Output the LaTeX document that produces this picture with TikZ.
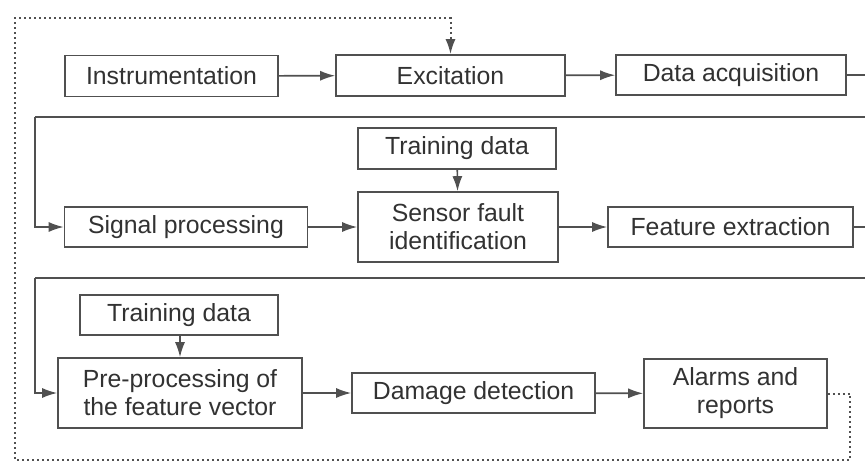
\documentclass[tikz,border=0pt]{standalone}
\usepackage{fontspec}
\setmainfont{Liberation Sans}
\usepackage{tikz}
\usetikzlibrary{arrows.meta,calc}

\definecolor{boxgray}{RGB}{80,80,80}
\definecolor{txtgray}{RGB}{50,50,50}

\tikzset{
  block/.style={draw=boxgray, line width=1.6pt, fill=white, text=txtgray,
    align=center, inner sep=0pt, font=\fontsize{24.8}{28}\selectfont},
  flow/.style={draw=boxgray, line width=1.6pt, -{Latex[length=15pt,width=10pt]}},
  link/.style={draw=boxgray, line width=1.6pt},
  feedback/.style={draw=boxgray, line width=2pt, dash pattern=on 2pt off 3pt,
    -{Latex[length=15pt,width=10pt]}}
}

\begin{document}
\begin{tikzpicture}[x=1pt,y=-1pt]
    \useasboundingbox (0,0) rectangle (865,463);

    % first row
    \node[block, minimum width=213pt, minimum height=41pt] (instr) at (171.5,76) {Instrumentation};
    \node[block, minimum width=229pt, minimum height=41pt] (excit) at (450.5,75.5) {Excitation};
    \node[block, minimum width=230pt, minimum height=40pt] (daq) at (731,75) {Data acquisition};

    % second row
    \node[block, minimum width=243pt, minimum height=40pt] (sigproc) at (186,227) {Signal processing};
    \node[block, minimum width=198pt, minimum height=41pt] (trainA) at (457,148.5) {Training data};
    \node[block, minimum width=200pt, minimum height=70pt] (sensor) at (458,227) {Sensor fault\\identification};
    \node[block, minimum width=245pt, minimum height=40pt] (featext) at (730.5,227) {Feature extraction};

    % third row
    \node[block, minimum width=198pt, minimum height=40pt] (trainB) at (179,315) {Training data};
    \node[block, minimum width=244pt, minimum height=70pt] (preproc) at (180,393) {Pre-processing of\\the feature vector};
    \node[block, minimum width=243pt, minimum height=40pt] (damage) at (473.5,393) {Damage detection};
    \node[block, minimum width=183pt, minimum height=69pt] (alarms) at (735.5,393.5) {Alarms and\\reports};

    % turning points
    \coordinate (edgeA) at (880,117);
    \coordinate (retA) at (35,117);
    \coordinate (edgeB) at (880,278);
    \coordinate (retB) at (35,278);
    \coordinate (fbR) at (850,460);
    \coordinate (fbL) at (15,460);
    \coordinate (fbT) at (15,18);

    % forward flow
    \draw[flow] (instr) -- (excit);
    \draw[flow] (excit) -- (daq);
    \draw[link] (daq.east) -| (edgeA) -- (retA);
    \draw[flow] (retA) |- (sigproc.west);
    \draw[flow] (sigproc) -- (sensor);
    \draw[flow] (trainA) -- (sensor);
    \draw[flow] (sensor) -- (featext);
    \draw[link] (featext.east) -| (edgeB) -- (retB);
    \draw[flow] (retB) |- (preproc.west);
    \draw[flow] (trainB.south -| preproc.north) -- (preproc.north);
    \draw[flow] (preproc) -- (damage);
    \draw[flow] (damage) -- (alarms);

    % feedback loop
    \draw[feedback] (alarms.east) -| (fbR) -- (fbL) -- (fbT) -| (excit.north);
\end{tikzpicture}
\end{document}
